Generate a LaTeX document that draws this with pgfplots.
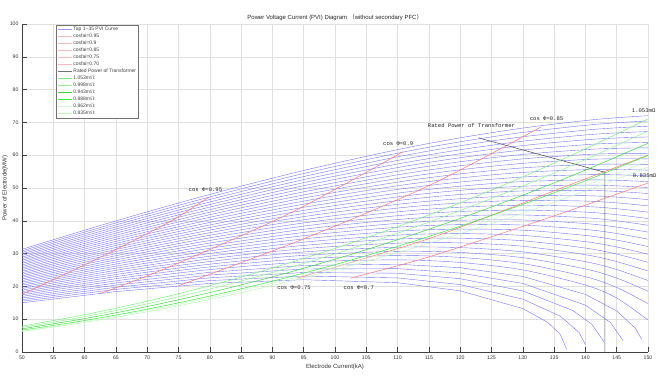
\documentclass[border=0pt]{standalone}
\usepackage{pgfplots}
\usepackage{pgfplotstable}
\pgfplotsset{compat=1.18}
\usepackage{fontspec}
\setmainfont{Liberation Sans}
\newfontfamily\monof{Liberation Mono}
\newfontfamily\cjk{Noto Sans CJK SC}
\definecolor{cblue}{RGB}{115,115,255}
\definecolor{legblue}{RGB}{150,150,255}
\definecolor{cred}{RGB}{255,115,115}
\definecolor{legred}{RGB}{255,185,185}
\definecolor{gA}{RGB}{120,240,120}
\definecolor{gB}{RGB}{140,245,140}
\definecolor{gC}{RGB}{60,215,60}
\definecolor{gD}{RGB}{50,240,50}
\definecolor{gE}{RGB}{205,250,205}
\definecolor{gF}{RGB}{185,248,185}

\pgfplotstableread{
I k6 k7 k8 k9 k10 k11 k12 k13 k14 k15 k16 k17 k18 k19 k20 k21 k22 k23 k24 k25 k26 k27 k28 k29 k30 k31 k32 k33 k34 k35
50 17.43 17.92 18.40 18.88 19.37 19.85 20.33 20.81 21.29 21.77 22.25 22.73 23.21 23.69 24.17 24.64 25.12 25.60 26.08 26.55 27.03 27.50 27.98 28.46 28.93 29.41 29.88 30.36 30.83 31.31
65 21.70 22.34 22.99 23.63 24.27 24.91 25.55 26.18 26.82 27.45 28.09 28.72 29.35 29.98 30.61 31.24 31.86 32.49 33.12 33.74 34.37 34.99 35.61 36.24 36.86 37.48 38.10 38.73 39.35 39.97
80 25.13 25.95 26.77 27.59 28.40 29.21 30.02 30.82 31.62 32.42 33.22 34.01 34.80 35.59 36.38 37.16 37.95 38.73 39.51 40.29 41.07 41.85 42.63 43.40 44.18 44.95 45.72 46.50 47.27 48.04
95 27.41 28.45 29.47 30.49 31.50 32.50 33.49 34.48 35.46 36.44 37.41 38.38 39.35 40.31 41.27 42.22 43.17 44.12 45.07 46.01 46.95 47.89 48.83 49.77 50.70 51.63 52.56 53.49 54.42 55.34
110 28.09 29.40 30.68 31.94 33.18 34.42 35.63 36.84 38.03 39.22 40.39 41.56 42.72 43.88 45.02 46.16 47.30 48.43 49.56 50.68 51.79 52.91 54.02 55.12 56.22 57.32 58.42 59.51 60.61 61.70
120 27.29 28.84 30.35 31.82 33.27 34.69 36.09 37.47 38.84 40.18 41.52 42.84 44.15 45.45 46.74 48.02 49.29 50.55 51.81 53.06 54.30 55.55 56.78 58.01 59.23 60.45 61.66 62.88 64.08 65.29
130 25.03 26.93 28.76 30.52 32.24 33.91 35.54 37.14 38.70 40.25 41.77 43.27 44.75 46.22 47.67 49.11 50.54 51.95 53.35 54.75 56.13 57.51 58.88 60.24 61.59 62.94 64.28 65.62 66.95 68.28
140 20.40 22.96 25.32 27.55 29.66 31.69 33.64 35.53 37.37 39.17 40.93 42.65 44.35 46.01 47.66 49.28 50.89 52.47 54.04 55.60 57.14 58.68 60.19 61.70 63.20 64.69 66.17 67.64 69.11 70.57
145 16.45 19.68 22.54 25.14 27.56 29.85 32.02 34.11 36.13 38.09 40.00 41.86 43.68 45.47 47.23 48.96 50.67 52.35 54.02 55.66 57.29 58.91 60.51 62.10 63.68 65.25 66.80 68.35 69.89 71.42
150 9.74 14.75 18.55 21.78 24.68 27.33 29.81 32.16 34.40 36.56 38.64 40.67 42.64 44.57 46.46 48.31 50.14 51.93 53.70 55.45 57.18 58.89 60.58 62.25 63.92 65.57 67.20 68.83 70.44 72.05
}\bluetab

\pgfplotstableread{
I R1053 R998 R943 R888 R862 R835
50 7.90 7.49 7.07 6.66 6.47 6.26
60 11.37 10.78 10.18 9.59 9.31 9.02
70 15.48 14.67 13.86 13.05 12.67 12.27
80 20.22 19.16 18.11 17.05 16.55 16.03
90 25.59 24.25 22.91 21.58 20.95 20.29
100 31.59 29.94 28.29 26.64 25.86 25.05
110 38.22 36.23 34.23 32.23 31.29 30.31
120 45.49 43.11 40.74 38.36 37.24 36.07
130 53.39 50.60 47.81 45.02 43.70 42.33
140 61.92 58.68 55.45 52.21 50.69 49.10
150 71.08 67.37 63.65 59.94 58.19 56.36
}\greentab

\begin{document}
\begin{tikzpicture}
\useasboundingbox (0,0) rectangle (660bp,378bp);
\begin{axis}[
  at={(22bp,26bp)}, anchor=south west,
  scale only axis, width=626bp, height=328bp,
  xmin=50, xmax=150, ymin=0, ymax=100,
  xtick={50,55,...,150}, ytick={0,10,...,100},
  axis x line*=bottom, axis y line*=left,
  axis line style={black!75, line width=0.5pt},
  tick align=inside, major tick length=5bp,
  tick style={black!75, line width=0.5pt},
  grid=major, grid style={black!12, line width=0.5pt},
  tick label style={font=\fontsize{5.2}{5.2}\selectfont, text=black!80},
  /pgf/number format/assume math mode=true,
  xlabel={Electrode Current(kA)},
  ylabel={Power of Electrode(MW)},
  xlabel style={at={([yshift=-15bp]axis description cs:0.5,0)}, anchor=center, font=\fontsize{6}{6}\selectfont, text=black!80},
  ylabel style={at={([xshift=-17bp]axis description cs:0,0.5)}, anchor=center, font=\fontsize{6}{6}\selectfont, text=black!80},
  clip mode=individual,
  legend style={at={(rel axis cs:0.054,0.997)}, anchor=north west, draw=black!55, line width=0.5pt,
    font=\fontsize{5}{5}\selectfont, text=black!75, row sep=1.2bp, inner sep=1.5bp,
    nodes={inner sep=0.6bp, text height=3.6bp, text depth=1bp}},
  legend cell align=left,
  legend image code/.code={\draw[#1] (0bp,0bp) -- (14bp,0bp);},
]
% legend
\addlegendimage{draw=legblue, line width=1.3pt}\addlegendentry{Tap 1\textasciitilde35 PVI Curve}
\addlegendimage{draw=legred, line width=0.8pt}\addlegendentry{cosfai=0.95}
\addlegendimage{draw=legred, line width=0.8pt}\addlegendentry{cosfai=0.9}
\addlegendimage{draw=legred, line width=0.8pt}\addlegendentry{cosfai=0.85}
\addlegendimage{draw=legred, line width=0.8pt}\addlegendentry{cosfai=0.75}
\addlegendimage{draw=legred, line width=0.8pt}\addlegendentry{cosfai=0.70}
\addlegendimage{draw=black!55, line width=0.6pt}\addlegendentry{Rated Power of Transformer}
\addlegendimage{draw=gA, line width=0.7pt}\addlegendentry{1.053m$\Omega$}
\addlegendimage{draw=gB, line width=0.7pt}\addlegendentry{0.998m$\Omega$}
\addlegendimage{draw=gC, line width=0.7pt}\addlegendentry{0.943m$\Omega$}
\addlegendimage{draw=gD, line width=0.7pt}\addlegendentry{0.888m$\Omega$}
\addlegendimage{draw=gE, line width=0.7pt}\addlegendentry{0.862m$\Omega$}
\addlegendimage{draw=gF, line width=0.7pt}\addlegendentry{0.835m$\Omega$}

% blue tap curves 1-5
\addplot[cblue, line width=0.4pt, forget plot] coordinates {(50,14.99)(65,18.42)(80,20.91)(95,22.04)(110,21.12)(120,18.65)(130,13.23)(134,9.01)(136,5.34)(137,0.78)};
\addplot[cblue, line width=0.4pt, forget plot] coordinates {(50,15.48)(65,19.09)(80,21.77)(95,23.15)(110,22.59)(120,20.55)(130,16.11)(136,10.91)(139,5.93)(140,2.26)};
\addplot[cblue, line width=0.4pt, forget plot] coordinates {(50,15.97)(65,19.74)(80,22.62)(95,24.24)(110,24.02)(120,22.34)(130,18.62)(138,12.64)(141,8.53)(143,3.01)};
\addplot[cblue, line width=0.4pt, forget plot] coordinates {(50,16.46)(65,20.40)(80,23.46)(95,25.31)(110,25.41)(120,24.06)(130,20.91)(140,14.28)(144,8.99)(146,3.51)};
\addplot[cblue, line width=0.4pt, forget plot] coordinates {(50,16.95)(65,21.05)(80,24.30)(95,26.37)(110,26.77)(120,25.70)(130,23.03)(140,17.56)(145,12.53)(148,7.21)(149,3.81)};
% blue tap curves 6-35
\pgfplotsinvokeforeach{6,...,35}{
  \addplot[cblue, line width=0.4pt, smooth, forget plot] table[x=I, y=k#1] {\bluetab};
}

% cos phi lines
\addplot[cred, line width=0.5pt, smooth, forget plot] coordinates {(50,17.6)(62,28.4)(73.6,39.7)(79.9,47.3)};
\addplot[cred, line width=0.5pt, smooth, forget plot] coordinates {(62.5,17.8)(73.6,26.0)(93,42.5)(110.9,61.1)};
\addplot[cred, line width=0.5pt, smooth, forget plot] coordinates {(75,20.2)(95,34.5)(115.2,50.9)(133,68.7)};
\addplot[cred, line width=0.5pt, smooth, forget plot] coordinates {(93.9,22.5)(115.2,34.7)(135.9,49.8)(150,60.0)};
\addplot[cred, line width=0.5pt, smooth, forget plot] coordinates {(102.4,22.5)(115.2,29.1)(135,41.5)(150,51.5)};

% rated power of transformer
\addplot[black!65, line width=0.6pt, forget plot] coordinates {(122.9,65.3)(143.1,54.8)(143.1,0)};

% resistance lines
\addplot[gA, line width=0.5pt, smooth, forget plot] table[x=I, y=R1053] {\greentab};
\addplot[gB, line width=0.5pt, smooth, forget plot] table[x=I, y=R998] {\greentab};
\addplot[gC, line width=0.5pt, smooth, forget plot] table[x=I, y=R943] {\greentab};
\addplot[gD, line width=0.5pt, smooth, forget plot] table[x=I, y=R888] {\greentab};
\addplot[gE, line width=0.5pt, smooth, forget plot] table[x=I, y=R862] {\greentab};
\addplot[gF, line width=0.5pt, smooth, forget plot] table[x=I, y=R835] {\greentab};

% title
\node[font=\fontsize{6}{6}\selectfont, text=black!85, inner sep=0pt] at ([yshift=6bp]rel axis cs:0.5,1) {Power Voltage Current (PVI) Diagram {\cjk （}without secondary PFC{\cjk ）}};

% annotations
\begin{scope}[every node/.style={font=\monof\fontsize{5.6}{6}\selectfont, text=black!85, inner sep=0pt}]
\node at (axis cs:79.3,49.4) {cos Φ=0.95};
\node at (axis cs:110.1,63.4) {cos Φ=0.9};
\node at (axis cs:133.8,71.0) {cos Φ=0.85};
\node at (axis cs:93.45,19.7) {cos Φ=0.75};
\node at (axis cs:103.8,19.7) {cos Φ=0.7};
\node at (axis cs:121.8,69.0) {Rated Power of Transformer};
\node[anchor=west] at (axis cs:147.4,73.6) {1.053mΩ};
\node[anchor=west] at (axis cs:147.55,53.7) {0.835mΩ};
\end{scope}
\end{axis}
\end{tikzpicture}
\end{document}
